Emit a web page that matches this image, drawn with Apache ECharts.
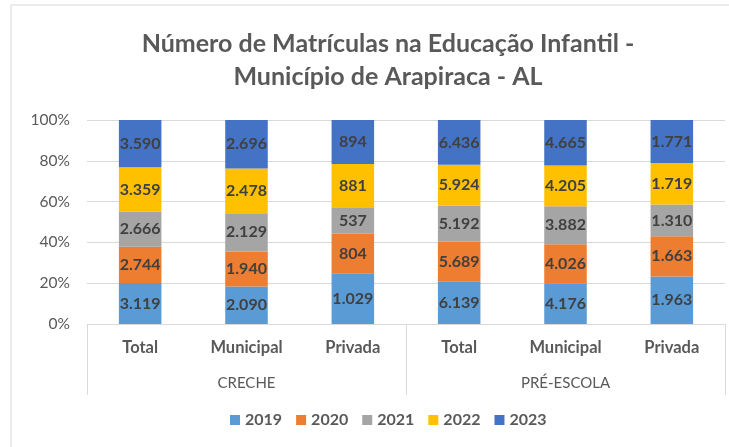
<!DOCTYPE html>
<html><head><meta charset="utf-8">
<script src="https://cdn.jsdelivr.net/npm/echarts@6/dist/echarts.min.js"></script>
<style>html,body{margin:0;padding:0;background:#fff;}#c{width:729px;height:447px;}</style>
</head><body><div id="c"></div>
<script>
const categories = ['Total','Municipal','Privada','Total','Municipal','Privada'];
const groups = ['CRECHE','PRÉ-ESCOLA'];
const years = ['2019','2020','2021','2022','2023'];
const v2019 = [3119, 2090, 1029, 6139, 4176, 1963];
const v2020 = [2744, 1940, 804, 5689, 4026, 1663];
const v2021 = [2666, 2129, 537, 5192, 3882, 1310];
const v2022 = [3359, 2478, 881, 5924, 4205, 1719];
const v2023 = [3590, 2696, 894, 6436, 4665, 1771];
const yTicks = [0, 20, 40, 60, 80, 100];

const colors = ['#5B9BD5','#ED7D31','#A5A5A5','#FFC000','#4472C4'];
const allSeries = [v2019, v2020, v2021, v2022, v2023];
const totals = categories.map((_, i) => allSeries.reduce((s, a) => s + a[i], 0));
const fmt = n => String(n).replace(/\B(?=(\d{3})+(?!\d))/g, '.');
const FONT = 'Lato';

const chart = echarts.init(document.getElementById('c'), null, {renderer: 'canvas'});
chart.setOption({
  animation: false,
  textStyle: {fontFamily: FONT},
  color: colors,
  graphic: [{type: 'rect', shape: {x: 11, y: 5, width: 800, height: 500}, style: {fill: 'none', stroke: '#D9D9D9', lineWidth: 1}, silent: true}],
  title: {
    text: 'Número de Matrículas na Educação Infantil -\nMunicípio de Arapiraca - AL',
    left: 383, top: 22, textAlign: 'center',
    textStyle: {fontFamily: FONT, fontSize: 25, fontWeight: 'bold', color: '#595959', lineHeight: 33}
  },
  legend: {
    data: years, bottom: 14, left: 225, itemWidth: 10, itemHeight: 10, itemGap: 14,
    icon: 'rect',
    textStyle: {fontFamily: FONT, fontSize: 16, fontWeight: 'bold', color: '#595959'}
  },
  grid: {left: 87, right: 4, top: 120, bottom: 123, containLabel: false},
  xAxis: [{
    type: 'category', data: categories, position: 'bottom',
    axisLine: {lineStyle: {color: '#D9D9D9'}}, axisTick: {show: false},
    axisLabel: {margin: 15, fontFamily: FONT, fontSize: 16.5, fontWeight: 'bold', color: '#595959', interval: 0}
  }, {
    type: 'category', data: groups, position: 'bottom', boundaryGap: true,
    axisLine: {show: false},
    axisTick: {show: true, length: 71, lineStyle: {color: '#D9D9D9'}, alignWithLabel: false},
    axisLabel: {margin: 52, fontFamily: FONT, fontSize: 15, color: '#595959'}
  }],
  yAxis: {
    type: 'value', min: 0, max: 100, interval: 20,
    axisLine: {show: false}, axisTick: {show: false},
    splitLine: {lineStyle: {color: '#D9D9D9'}},
    axisLabel: {margin: 17, formatter: v => yTicks.includes(v) ? v + '%' : '', fontFamily: FONT, fontSize: 15.5, color: '#595959'}
  },
  series: years.map((y, k) => ({
    name: y, type: 'bar', stack: 'all', xAxisIndex: 0, barWidth: '40%',
    data: allSeries[k].map((v, i) => ({value: v / totals[i] * 100, raw: v})),
    label: {show: true, position: 'inside', formatter: p => fmt(p.data.raw), fontFamily: FONT, fontSize: 16, fontWeight: 'bold', color: '#404040'}
  }))
});
</script></body></html>
